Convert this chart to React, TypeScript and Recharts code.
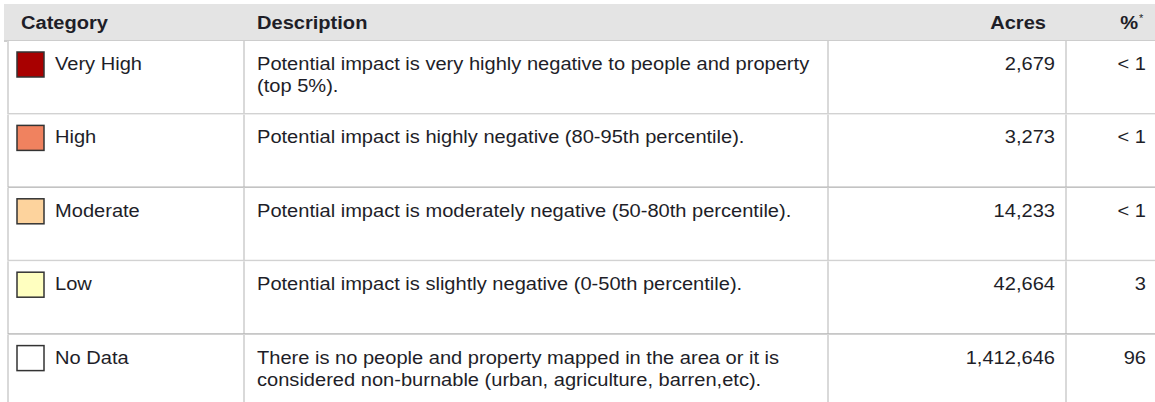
import { BarChart, Bar, XAxis, YAxis, Customized } from "recharts";

const categories = ["Very High", "High", "Moderate", "Low", "No Data"];
const swatches = ["#a80000", "#f0825f", "#fdd39d", "#ffffc0", "#ffffff"];
const descriptions = [
  ["Potential impact is very highly negative to people and property", "(top 5%)."],
  ["Potential impact is highly negative (80-95th percentile)."],
  ["Potential impact is moderately negative (50-80th percentile)."],
  ["Potential impact is slightly negative (0-50th percentile)."],
  [
    "There is no people and property mapped in the area or it is",
    "considered non-burnable (urban, agriculture, barren,etc).",
  ],
];
const acres = [2679, 3273, 14233, 42664, 1412646];
const percents = ["< 1", "< 1", "< 1", "3", "96"];

const data = categories.map((category, i) => ({
  category,
  swatch: swatches[i],
  description: descriptions[i],
  acres: acres[i],
  percent: percents[i],
  row: 1,
}));

const FONT = "'Liberation Sans', Arial, sans-serif";
const TEXT = "#1e1e28";
const GRID = "#d9d9d9";
const STRETCH = 1.085; // source scan is a bit wider than tall
// lines under each row: light / dark alternate like the source pdf
const ruleColor = ["#d2d2d2", "#b4b4b4", "#d2d2d2", "#b4b4b4", "#d2d2d2"];

// column dividers (x)
const COL_DESC = 244;
const COL_ACRES = 828;
const COL_PCT = 1066;

const T = ({ x, y, anchor = "start", children, ...rest }: any) => (
  <text
    transform={`translate(${x},${y}) scale(${STRETCH},1)`}
    textAnchor={anchor}
    {...rest}
  >
    {children}
  </text>
);

const Header = () => (
  <g fontFamily={FONT} fontSize={18.5} fontWeight="bold" fill={TEXT}>
    <rect x={4} y={4} width={1151} height={37} fill="#e4e4e4" />
    <line x1={4} x2={1155} y1={41} y2={41} stroke="#cdcdcd" strokeWidth={2} />
    <T x={21} y={29}>Category</T>
    <T x={257} y={29}>Description</T>
    <T x={1046} y={29} anchor="end">Acres</T>
    <T x={1138} y={29} anchor="end">%</T>
    <text x={1139} y={22} fontSize={11} fontWeight="normal">*</text>
  </g>
);

const RowCell = (props: any) => {
  const { x, y, width, height, payload, index } = props;
  const bottom = y + height;
  return (
    <g fontFamily={FONT} fontSize={18.5} fill={TEXT}>
      <rect x={x} y={y} width={width} height={height} fill="#ffffff" />
      <line x1={x} x2={x} y1={y} y2={bottom} stroke={GRID} strokeWidth={2} />
      <line x1={COL_DESC} x2={COL_DESC} y1={y} y2={bottom} stroke={GRID} strokeWidth={2} />
      <line x1={COL_ACRES} x2={COL_ACRES} y1={y} y2={bottom} stroke={GRID} strokeWidth={2} />
      <line x1={COL_PCT} x2={COL_PCT} y1={y} y2={bottom} stroke={GRID} strokeWidth={2} />
      <line
        x1={x}
        x2={x + width}
        y1={bottom}
        y2={bottom}
        stroke={ruleColor[index]}
        strokeWidth={2}
      />
      <rect
        x={17}
        y={y + 11}
        width={27}
        height={25}
        fill={payload.swatch}
        stroke="#333333"
        strokeWidth={1.5}
      />
      <T x={55} y={y + 29}>{payload.category}</T>
      {payload.description.map((line: string, i: number) => (
        <T key={i} x={257} y={y + 29 + i * 22}>
          {line}
        </T>
      ))}
      <T x={1055} y={y + 29} anchor="end">
        {payload.acres.toLocaleString("en-US")}
      </T>
      <T x={1146} y={y + 29} anchor="end">
        {payload.percent}
      </T>
    </g>
  );
};

export default function App() {
  return (
    <div
      style={{
        position: "fixed",
        left: 0,
        top: 0,
        width: 1155,
        height: 402,
        overflow: "hidden",
        background: "#ffffff",
      }}
    >
      <BarChart
        width={1155}
        height={408}
        data={data}
        layout="vertical"
        barCategoryGap={0}
        margin={{ top: 41, right: 0, bottom: 0, left: 8 }}
      >
        <XAxis type="number" domain={[0, 1]} hide />
        <YAxis type="category" dataKey="category" hide />
        <Bar dataKey="row" isAnimationActive={false} shape={RowCell} />
        <Customized component={Header} />
      </BarChart>
    </div>
  );
}
